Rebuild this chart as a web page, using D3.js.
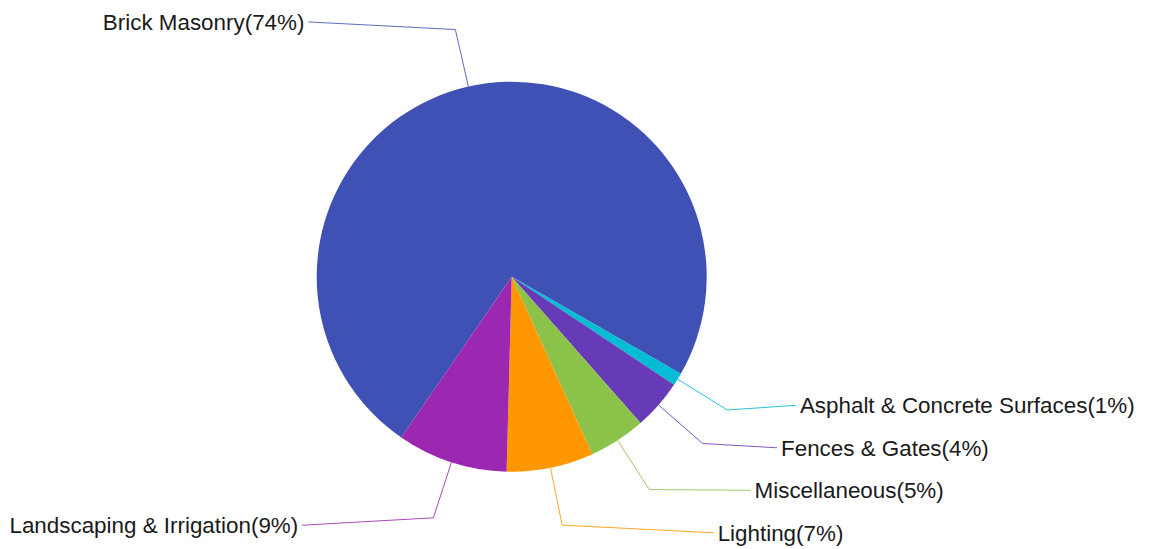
<!DOCTYPE html>
<html>
<head>
<meta charset="utf-8">
<script src="https://cdn.jsdelivr.net/npm/d3@7"></script>
<style>
  html, body { margin: 0; padding: 0; background: #ffffff; }
  svg { display: block; }
</style>
</head>
<body>
<svg id="chart" width="1152" height="549"></svg>
<script>
// ---- Data ----
const categories = [
  "Brick Masonry",
  "Asphalt & Concrete Surfaces",
  "Fences & Gates",
  "Miscellaneous",
  "Lighting",
  "Landscaping & Irrigation"
];
const values = [73.7, 1.06, 4.17, 4.7, 7.2, 9.17];
const colors = ["#3F51B5", "#00BCD4", "#673AB7", "#8BC34A", "#FF9800", "#9C27B0"];

// ---- Layout ----
const W = 1152, H = 549;
const cx = 511.7, cy = 276.7, r = 195;
const elbowFactor = 1.3;
const labelYFactor = 1.34;
const ellA = 307, ellB = 340;
const gap = 42.5;
const fontSize = 22.4;

const svg = d3.select("#chart");
const g = svg.append("g").attr("transform", `translate(${cx},${cy})`);

const start = 214.5 * Math.PI / 180;
const pie = d3.pie().sort(null).value(d => d.value)
  .startAngle(start).endAngle(start + 2 * Math.PI);
const data = categories.map((c, i) => ({ name: c, value: values[i], color: colors[i] }));
const total = d3.sum(values);
const arcs = pie(data);
const arc = d3.arc().innerRadius(0).outerRadius(r);

g.selectAll("path.slice").data(arcs).enter().append("path")
  .attr("class", "slice")
  .attr("d", arc)
  .attr("fill", d => d.data.color);

// label positions
const labels = arcs.map(d => {
  const a = (d.startAngle + d.endAngle) / 2;
  const s = Math.sin(a), c = Math.cos(a);
  return {
    d, a,
    side: s >= 0 ? 1 : -1,
    p0: [r * s, -r * c],
    p1: [r * elbowFactor * s, -r * elbowFactor * c],
    y: -r * labelYFactor * c
  };
});
[1, -1].forEach(side => {
  const list = labels.filter(l => l.side === side).sort((a, b) => a.y - b.y);
  for (let i = list.length - 2; i >= 0; i--) {
    list[i].y = Math.min(list[i].y, list[i + 1].y - gap);
  }
});
labels.forEach(l => {
  const t = Math.max(0, 1 - (l.y / ellB) ** 2);
  l.x = l.side * ellA * Math.sqrt(t);
});

g.selectAll("polyline.leader").data(labels).enter().append("polyline")
  .attr("class", "leader")
  .attr("points", l => [l.p0, l.p1, [l.x, l.y]].map(p => p.join(",")).join(" "))
  .attr("fill", "none")
  .attr("stroke", l => l.d.data.color)
  .attr("stroke-opacity", 0.85)
  .attr("stroke-width", 1);

g.selectAll("text.lbl").data(labels).enter().append("text")
  .attr("class", "lbl")
  .attr("x", l => l.x + l.side * 4)
  .attr("y", l => l.y)
  .attr("dy", "0.36em")
  .attr("text-anchor", l => l.side > 0 ? "start" : "end")
  .attr("font-family", "Arial, 'Liberation Sans', sans-serif")
  .attr("font-size", fontSize)
  .attr("fill", "#1a1a1a")
  .text(l => `${l.d.data.name}(${Math.round(l.d.data.value / total * 100)}%)`);
</script>
</body>
</html>
